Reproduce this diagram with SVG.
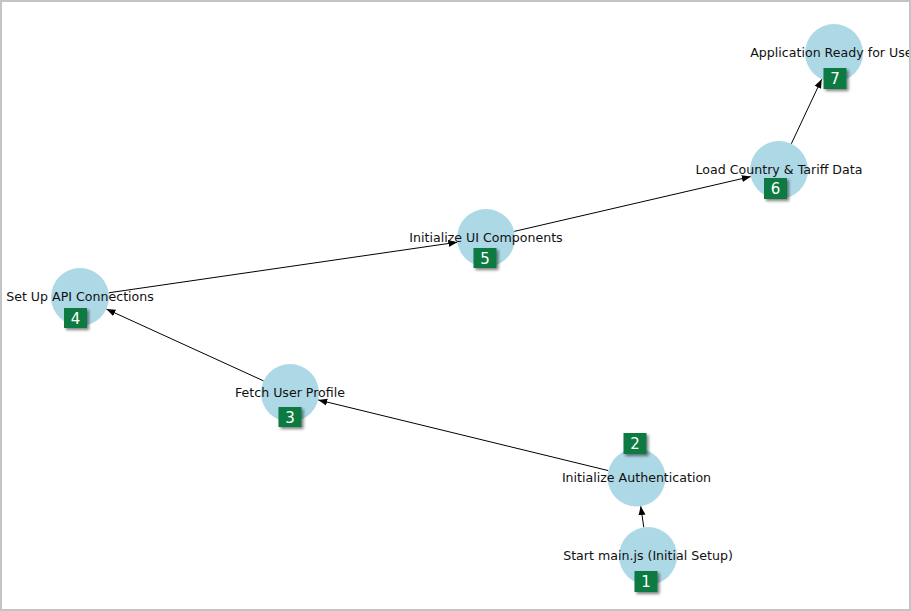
<svg xmlns="http://www.w3.org/2000/svg" width="911" height="611" viewBox="0 0 911 611">
<defs>
<marker id="arr" markerUnits="userSpaceOnUse" markerWidth="10" markerHeight="8" refX="9" refY="4" orient="auto">
<path d="M0,0.5 L9,4 L0,7.5 Z" fill="#000"/>
</marker>
<filter id="sh" x="-30%" y="-30%" width="170%" height="170%">
<feGaussianBlur in="SourceAlpha" stdDeviation="1.5"/>
<feOffset dx="1.5" dy="2" result="b"/>
<feComponentTransfer><feFuncA type="linear" slope="0.5"/></feComponentTransfer>
<feMerge><feMergeNode/><feMergeNode in="SourceGraphic"/></feMerge>
</filter>
</defs>
<style>
.c{fill:#add8e6;}
.l{font-family:"DejaVu Sans",sans-serif;font-size:12.6px;fill:#111;text-anchor:middle;}
.b{fill:#087a43;filter:url(#sh);}
.n{font-family:"DejaVu Sans",sans-serif;font-size:15px;fill:#fff;text-anchor:middle;}
.e{stroke:#000;stroke-width:1;fill:none;marker-end:url(#arr);}
</style>
<rect x="0" y="0" width="911" height="611" fill="#fff"/>
<g id="edges">
<line class="e" x1="643.8" y1="527.3" x2="640.7" y2="506.2"/>
<line class="e" x1="608.3" y1="470.6" x2="318.2" y2="399.9"/>
<line class="e" x1="263.6" y1="380.9" x2="106.4" y2="309.1"/>
<line class="e" x1="108.7" y1="292.8" x2="457.3" y2="242.2"/>
<line class="e" x1="514.2" y1="231.4" x2="750.8" y2="176.6"/>
<line class="e" x1="791.3" y1="143.8" x2="821.7" y2="79.2"/>
</g>
<g id="n1"><circle class="c" cx="648" cy="556" r="29"/><text class="l" x="648" y="560">Start main.js (Initial Setup)</text><rect class="b" x="634.5" y="571" width="23" height="21"/><text class="n" x="646" y="587">1</text></g>
<g id="n2"><circle class="c" cx="636.5" cy="477.5" r="29"/><text class="l" x="636.5" y="481.5">Initialize Authentication</text><rect class="b" x="623.5" y="433" width="23" height="21"/><text class="n" x="635" y="449">2</text></g>
<g id="n3"><circle class="c" cx="290" cy="393" r="29"/><text class="l" x="290" y="397">Fetch User Profile</text><rect class="b" x="278.5" y="407" width="23" height="20"/><text class="n" x="290" y="422.5">3</text></g>
<g id="n4"><circle class="c" cx="80" cy="297" r="29"/><text class="l" x="80" y="301">Set Up API Connections</text><rect class="b" x="64" y="308" width="23" height="20"/><text class="n" x="75.5" y="323.5">4</text></g>
<g id="n5"><circle class="c" cx="486" cy="238" r="29"/><text class="l" x="486" y="242">Initialize UI Components</text><rect class="b" x="473.5" y="248" width="23" height="20"/><text class="n" x="485" y="263.5">5</text></g>
<g id="n6"><circle class="c" cx="779" cy="170" r="29"/><text class="l" x="779" y="174">Load Country &amp; Tariff Data</text><rect class="b" x="764" y="178" width="23" height="21"/><text class="n" x="775.5" y="194">6</text></g>
<g id="n7"><circle class="c" cx="834" cy="53" r="29"/><text class="l" x="834" y="57">Application Ready for User</text><rect class="b" x="823.5" y="68" width="23" height="21"/><text class="n" x="835" y="84">7</text></g>
<rect x="1" y="1" width="909" height="609" fill="none" stroke="#c4c4c4" stroke-width="2"/>
</svg>
